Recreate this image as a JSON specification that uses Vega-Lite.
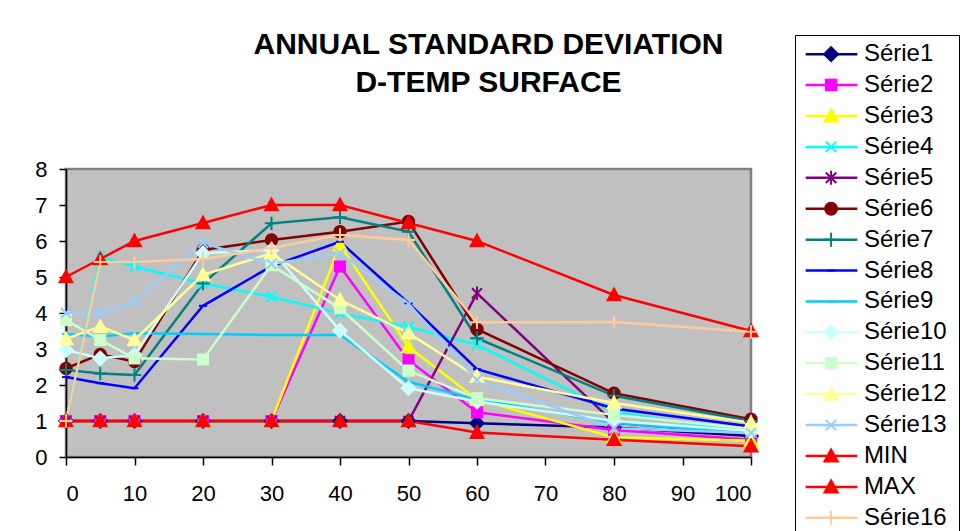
{
  "$schema": "https://vega.github.io/schema/vega-lite/v6.json",
  "autosize": {"type": "pad"},
  "padding": {"left": 33, "top": 30, "right": 0, "bottom": 0},
  "background": "white",
  "spacing": 31,
  "config": {
    "font": "Liberation Sans",
    "view": {"stroke": "#808080", "strokeWidth": 2.5, "fill": "#C0C0C0"},
    "axis": {"labelFont": "Liberation Sans", "labelFontSize": 22, "labelColor": "black", "domainColor": "black", "domainWidth": 1.5, "tickColor": "black", "tickWidth": 1.5, "grid": false, "title": null, "tickSize": 7}
  },
  "hconcat": [
    {
      "bounds": "flush",
      "spacing": 34,
      "vconcat": [
        {
          "width": 685,
          "height": 100,
          "view": {"stroke": null, "fill": null},
          "data": {"values": [{}]},
          "mark": {"type": "text", "font": "Liberation Sans", "fontSize": 30, "fontWeight": "bold", "color": "black", "align": "center", "baseline": "middle", "lineHeight": 38, "dx": 80, "dy": -40},
          "encoding": {"text": {"value": ["ANNUAL STANDARD DEVIATION", "D-TEMP SURFACE"]}}
        },
        {
          "width": 685,
          "height": 288,
          "data": {"values": [
            {"s":"Série1","x":0,"y":1},{"s":"Série1","x":5,"y":1},{"s":"Série1","x":10,"y":1},{"s":"Série1","x":20,"y":1},{"s":"Série1","x":30,"y":1},{"s":"Série1","x":40,"y":1},{"s":"Série1","x":50,"y":1},{"s":"Série1","x":60,"y":0.94},{"s":"Série1","x":80,"y":0.82},{"s":"Série1","x":100,"y":0.58},
            {"s":"Série2","x":0,"y":1},{"s":"Série2","x":5,"y":1},{"s":"Série2","x":10,"y":1},{"s":"Série2","x":20,"y":1},{"s":"Série2","x":30,"y":1},{"s":"Série2","x":40,"y":5.29},{"s":"Série2","x":50,"y":2.69},{"s":"Série2","x":60,"y":1.24},{"s":"Série2","x":80,"y":0.75},{"s":"Série2","x":100,"y":0.48},
            {"s":"Série3","x":0,"y":1},{"s":"Série3","x":5,"y":1},{"s":"Série3","x":10,"y":1},{"s":"Série3","x":20,"y":1},{"s":"Série3","x":30,"y":1},{"s":"Série3","x":40,"y":5.89},{"s":"Série3","x":50,"y":3.06},{"s":"Série3","x":60,"y":1.6},{"s":"Série3","x":80,"y":0.55},{"s":"Série3","x":100,"y":0.45},
            {"s":"Série4","x":0,"y":1},{"s":"Série4","x":5,"y":5.56},{"s":"Série4","x":10,"y":5.29},{"s":"Série4","x":20,"y":4.82},{"s":"Série4","x":30,"y":4.45},{"s":"Série4","x":40,"y":3.99},{"s":"Série4","x":50,"y":3.62},{"s":"Série4","x":60,"y":3.11},{"s":"Série4","x":80,"y":1.25},{"s":"Série4","x":100,"y":0.68},
            {"s":"Série5","x":0,"y":1},{"s":"Série5","x":5,"y":1},{"s":"Série5","x":10,"y":1},{"s":"Série5","x":20,"y":1},{"s":"Série5","x":30,"y":1},{"s":"Série5","x":40,"y":1},{"s":"Série5","x":50,"y":1},{"s":"Série5","x":60,"y":4.55},{"s":"Série5","x":80,"y":0.95},{"s":"Série5","x":100,"y":0.65},
            {"s":"Série6","x":0,"y":2.46},{"s":"Série6","x":5,"y":2.85},{"s":"Série6","x":10,"y":2.65},{"s":"Série6","x":20,"y":5.75},{"s":"Série6","x":30,"y":6.03},{"s":"Série6","x":40,"y":6.26},{"s":"Série6","x":50,"y":6.54},{"s":"Série6","x":60,"y":3.55},{"s":"Série6","x":80,"y":1.77},{"s":"Série6","x":100,"y":1.05},
            {"s":"Série7","x":0,"y":2.42},{"s":"Série7","x":5,"y":2.32},{"s":"Série7","x":10,"y":2.28},{"s":"Série7","x":20,"y":4.82},{"s":"Série7","x":30,"y":6.49},{"s":"Série7","x":40,"y":6.66},{"s":"Série7","x":50,"y":6.26},{"s":"Série7","x":60,"y":3.3},{"s":"Série7","x":80,"y":1.7},{"s":"Série7","x":100,"y":1.0},
            {"s":"Série8","x":0,"y":2.22},{"s":"Série8","x":5,"y":2.05},{"s":"Série8","x":10,"y":1.91},{"s":"Série8","x":20,"y":4.2},{"s":"Série8","x":30,"y":5.3},{"s":"Série8","x":40,"y":5.98},{"s":"Série8","x":50,"y":4.27},{"s":"Série8","x":60,"y":2.44},{"s":"Série8","x":80,"y":1.35},{"s":"Série8","x":100,"y":0.85},
            {"s":"Série9","x":0,"y":3.42},{"s":"Série9","x":5,"y":3.35},{"s":"Série9","x":10,"y":3.44},{"s":"Série9","x":20,"y":3.42},{"s":"Série9","x":30,"y":3.39},{"s":"Série9","x":40,"y":3.39},{"s":"Série9","x":50,"y":2.09},{"s":"Série9","x":60,"y":1.6},{"s":"Série9","x":80,"y":0.95},{"s":"Série9","x":100,"y":0.65},
            {"s":"Série10","x":0,"y":2.97},{"s":"Série10","x":5,"y":2.74},{"s":"Série10","x":10,"y":2.83},{"s":"Série10","x":20,"y":5.66},{"s":"Série10","x":30,"y":5.75},{"s":"Série10","x":40,"y":3.51},{"s":"Série10","x":50,"y":1.91},{"s":"Série10","x":60,"y":1.54},{"s":"Série10","x":80,"y":1.0},{"s":"Série10","x":100,"y":0.72},
            {"s":"Série11","x":0,"y":3.8},{"s":"Série11","x":5,"y":3.25},{"s":"Série11","x":10,"y":2.74},{"s":"Série11","x":20,"y":2.71},{"s":"Série11","x":30,"y":5.33},{"s":"Série11","x":40,"y":4.13},{"s":"Série11","x":50,"y":2.4},{"s":"Série11","x":60,"y":1.63},{"s":"Série11","x":80,"y":1.17},{"s":"Série11","x":100,"y":0.78},
            {"s":"Série12","x":0,"y":3.28},{"s":"Série12","x":5,"y":3.62},{"s":"Série12","x":10,"y":3.25},{"s":"Série12","x":20,"y":5.06},{"s":"Série12","x":30,"y":5.66},{"s":"Série12","x":40,"y":4.36},{"s":"Série12","x":50,"y":3.44},{"s":"Série12","x":60,"y":2.23},{"s":"Série12","x":80,"y":1.5},{"s":"Série12","x":100,"y":0.95},
            {"s":"Série13","x":0,"y":4.0},{"s":"Série13","x":5,"y":3.99},{"s":"Série13","x":10,"y":4.31},{"s":"Série13","x":20,"y":5.95},{"s":"Série13","x":30,"y":5.36},{"s":"Série13","x":40,"y":5.66},{"s":"Série13","x":50,"y":4.25},{"s":"Série13","x":60,"y":2.14},{"s":"Série13","x":80,"y":0.8},{"s":"Série13","x":100,"y":0.67},
            {"s":"MIN","x":0,"y":1},{"s":"MIN","x":5,"y":1},{"s":"MIN","x":10,"y":1},{"s":"MIN","x":20,"y":1},{"s":"MIN","x":30,"y":1},{"s":"MIN","x":40,"y":1},{"s":"MIN","x":50,"y":1},{"s":"MIN","x":60,"y":0.68},{"s":"MIN","x":80,"y":0.48},{"s":"MIN","x":100,"y":0.3},
            {"s":"MAX","x":0,"y":5},{"s":"MAX","x":5,"y":5.5},{"s":"MAX","x":10,"y":6},{"s":"MAX","x":20,"y":6.5},{"s":"MAX","x":30,"y":7},{"s":"MAX","x":40,"y":7},{"s":"MAX","x":50,"y":6.5},{"s":"MAX","x":60,"y":6},{"s":"MAX","x":80,"y":4.5},{"s":"MAX","x":100,"y":3.5},
            {"s":"Série16","x":0,"y":1},{"s":"Série16","x":5,"y":5.42},{"s":"Série16","x":10,"y":5.42},{"s":"Série16","x":20,"y":5.5},{"s":"Série16","x":30,"y":5.8},{"s":"Série16","x":40,"y":6.17},{"s":"Série16","x":50,"y":6.03},{"s":"Série16","x":60,"y":3.74},{"s":"Série16","x":80,"y":3.75},{"s":"Série16","x":100,"y":3.48}
          ]},
          "encoding": {
            "x": {"field": "x", "type": "quantitative", "scale": {"domain": [0, 100], "nice": false}, "axis": {"values": [0,10,20,30,40,50,60,70,80,90,100], "labelPadding": 18, "tickSize": 8}},
            "y": {"field": "y", "type": "quantitative", "scale": {"domain": [0, 8], "nice": false}, "axis": {"values": [0,1,2,3,4,5,6,7,8], "labelPadding": 12, "labelBaseline": "middle"}},
            "color": {
              "field": "s", "type": "nominal", "legend": null,
              "scale": {
                "domain": ["Série1","Série2","Série3","Série4","Série5","Série6","Série7","Série8","Série9","Série10","Série11","Série12","Série13","MIN","MAX","Série16"],
                "range": ["#000080","#FF00FF","#FFFF00","#00FFFF","#800080","#800000","#008080","#0000FF","#00CCFF","#CCFFFF","#CCFFCC","#FFFF99","#99CCFF","#FF0000","#FF0000","#FFCC99"]
              }
            }
          },
          "layer": [
            {"mark": {"type": "line", "strokeWidth": 2.5}},
            {
              "mark": {"type": "point", "filled": true, "size": 180, "opacity": 1, "strokeWidth": 2},
              "encoding": {
                "shape": {
                  "field": "s", "type": "nominal", "legend": null,
                  "scale": {
                    "domain": ["Série1","Série2","Série3","Série4","Série5","Série6","Série7","Série8","Série9","Série10","Série11","Série12","Série13","MIN","MAX","Série16"],
                    "range": [
                      "M0,-1L1,0L0,1L-1,0Z",
                      "M-0.75,-0.75H0.75V0.75H-0.75Z",
                      "M0,-0.95L0.95,0.8H-0.95Z",
                      "M-0.75,-0.75L0.75,0.75M-0.75,0.75L0.75,-0.75",
                      "M-0.75,-0.75L0.75,0.75M-0.75,0.75L0.75,-0.75M0,-1V1",
                      "M-0.85,0A0.85,0.85,0,1,0,0.85,0A0.85,0.85,0,1,0,-0.85,0Z",
                      "M-1,0H1M0,-1V1",
                      "M-0.6,0H0.6",
                      "M-0.6,0H0.6",
                      "M0,-1L1,0L0,1L-1,0Z",
                      "M-0.75,-0.75H0.75V0.75H-0.75Z",
                      "M0,-0.95L0.95,0.8H-0.95Z",
                      "M-0.75,-0.75L0.75,0.75M-0.75,0.75L0.75,-0.75",
                      "M0,-0.95L0.95,0.8H-0.95Z",
                      "M0,-0.95L0.95,0.8H-0.95Z",
                      "M-1,0H1M0,-1V1"
                    ]
                  }
                },
                "stroke": {
                  "field": "s", "type": "nominal", "legend": null,
                  "scale": {
                    "domain": ["Série1","Série2","Série3","Série4","Série5","Série6","Série7","Série8","Série9","Série10","Série11","Série12","Série13","MIN","MAX","Série16"],
                    "range": ["#000080","#FF00FF","#FFFF00","#00FFFF","#800080","#800000","#008080","#0000FF","#00CCFF","#CCFFFF","#CCFFCC","#FFFF99","#99CCFF","#FF0000","#FF0000","#FFCC99"]
                  }
                }
              }
            }
          ]
        }
      ]
    },
    {
      "width": 164,
      "height": 502,
      "view": {"fill": "white", "stroke": "black", "strokeWidth": 1},
      "data": {"values": [
        {"s":"Série1"},{"s":"Série2"},{"s":"Série3"},{"s":"Série4"},{"s":"Série5"},{"s":"Série6"},{"s":"Série7"},{"s":"Série8"},
        {"s":"Série9"},{"s":"Série10"},{"s":"Série11"},{"s":"Série12"},{"s":"Série13"},{"s":"MIN"},{"s":"MAX"},{"s":"Série16"}
      ]},
      "encoding": {
        "y": {
          "field": "s", "type": "nominal", "axis": null,
          "scale": {
            "type": "point", "padding": 0.62,
            "domain": ["Série1","Série2","Série3","Série4","Série5","Série6","Série7","Série8","Série9","Série10","Série11","Série12","Série13","MIN","MAX","Série16"]
          }
        },
        "color": {
          "field": "s", "type": "nominal", "legend": null,
          "scale": {
            "domain": ["Série1","Série2","Série3","Série4","Série5","Série6","Série7","Série8","Série9","Série10","Série11","Série12","Série13","MIN","MAX","Série16"],
            "range": ["#000080","#FF00FF","#FFFF00","#00FFFF","#800080","#800000","#008080","#0000FF","#00CCFF","#CCFFFF","#CCFFCC","#FFFF99","#99CCFF","#FF0000","#FF0000","#FFCC99"]
          }
        }
      },
      "layer": [
        {
          "mark": {"type": "rule", "strokeWidth": 2.5},
          "encoding": {
            "x": {"datum": 0.65, "type": "quantitative", "scale": {"domain": [0, 10]}, "axis": null},
            "x2": {"datum": 3.8}
          }
        },
        {
          "mark": {"type": "point", "filled": true, "size": 196, "opacity": 1, "strokeWidth": 2},
          "encoding": {
            "x": {"datum": 2.2, "type": "quantitative"},
            "shape": {
              "field": "s", "type": "nominal", "legend": null,
              "scale": {
                "domain": ["Série1","Série2","Série3","Série4","Série5","Série6","Série7","Série8","Série9","Série10","Série11","Série12","Série13","MIN","MAX","Série16"],
                "range": [
                  "M0,-1L1,0L0,1L-1,0Z",
                  "M-0.75,-0.75H0.75V0.75H-0.75Z",
                  "M0,-0.95L0.95,0.8H-0.95Z",
                  "M-0.75,-0.75L0.75,0.75M-0.75,0.75L0.75,-0.75",
                  "M-0.75,-0.75L0.75,0.75M-0.75,0.75L0.75,-0.75M0,-1V1",
                  "M-0.85,0A0.85,0.85,0,1,0,0.85,0A0.85,0.85,0,1,0,-0.85,0Z",
                  "M-1,0H1M0,-1V1",
                  "M-0.6,0H0.6",
                  "M-0.6,0H0.6",
                  "M0,-1L1,0L0,1L-1,0Z",
                  "M-0.75,-0.75H0.75V0.75H-0.75Z",
                  "M0,-0.95L0.95,0.8H-0.95Z",
                  "M-0.75,-0.75L0.75,0.75M-0.75,0.75L0.75,-0.75",
                  "M0,-0.95L0.95,0.8H-0.95Z",
                  "M0,-0.95L0.95,0.8H-0.95Z",
                  "M-1,0H1M0,-1V1"
                ]
              }
            },
            "stroke": {
              "field": "s", "type": "nominal", "legend": null,
              "scale": {
                "domain": ["Série1","Série2","Série3","Série4","Série5","Série6","Série7","Série8","Série9","Série10","Série11","Série12","Série13","MIN","MAX","Série16"],
                "range": ["#000080","#FF00FF","#FFFF00","#00FFFF","#800080","#800000","#008080","#0000FF","#00CCFF","#CCFFFF","#CCFFCC","#FFFF99","#99CCFF","#FF0000","#FF0000","#FFCC99"]
              }
            }
          }
        },
        {
          "mark": {"type": "text", "align": "left", "baseline": "middle", "font": "Liberation Sans", "fontSize": 24, "color": "black"},
          "encoding": {
            "x": {"datum": 4.2, "type": "quantitative"},
            "text": {"field": "s"},
            "color": {"value": "black"}
          }
        }
      ]
    }
  ]
}
